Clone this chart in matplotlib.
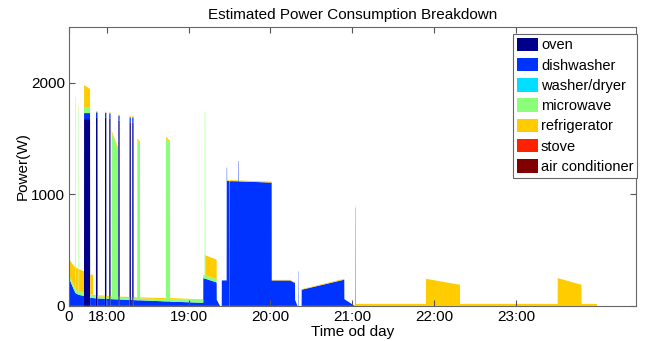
#!/usr/bin/env python3
import matplotlib
matplotlib.use("Agg")
import matplotlib.pyplot as plt
import numpy as np

plt.rcParams['font.family'] = ['Liberation Sans', 'DejaVu Sans']

# time of day in hours, with per-appliance power (W) at each time
t = [17.539, 17.596, 17.618, 17.619, 17.623, 17.624, 17.656, 17.657, 17.661, 17.662,
     17.722, 17.723, 17.796, 17.797, 17.832, 17.833, 17.868, 17.869, 17.887, 17.888,
     17.978, 17.979, 17.995, 17.996, 18.030, 18.031, 18.046, 18.047, 18.060, 18.061,
     18.137, 18.138, 18.141, 18.142, 18.157, 18.158, 18.278, 18.279, 18.294, 18.295,
     18.311, 18.312, 18.327, 18.328, 18.373, 18.374, 18.406, 18.407, 18.723, 18.724,
     18.772, 18.773, 19.179, 19.180, 19.196, 19.197, 19.203, 19.204, 19.343, 19.344,
     19.384, 19.405, 19.406, 19.465, 19.466, 19.470, 19.471, 19.496, 19.497, 19.500,
     19.501, 19.605, 19.606, 19.610, 19.611, 20.015, 20.016, 20.240, 20.300, 20.301,
     20.330, 20.339, 20.340, 20.343, 20.344, 20.381, 20.382, 20.902, 20.903, 21.030,
     21.031, 21.035, 21.036, 21.039, 21.040, 21.899, 21.900, 22.316, 22.317, 23.509,
     23.510, 23.800, 23.801, 23.990, 23.991]

oven = [0, 0, 0, 0, 0, 0, 0, 0, 0, 0,
        0, 1674, 1674, 0, 0, 0, 0, 1690, 1690, 0,
        0, 1685, 1685, 0, 0, 1680, 1680, 0, 0, 0,
        0, 0, 0, 1660, 1660, 0, 0, 1645, 1645, 0,
        0, 1645, 1645, 0, 0, 0, 0, 0, 0, 0,
        0, 0, 0, 0, 0, 0, 0, 0, 0, 0,
        0, 0, 0, 0, 0, 0, 0, 0, 0, 0,
        0, 0, 0, 0, 0, 0, 0, 0, 0, 0,
        0, 0, 0, 0, 0, 0, 0, 0, 0, 0,
        0, 0, 0, 0, 0, 0, 0, 0, 0, 0,
        0, 0, 0, 0, 0]

dishwasher = [250, 150, 115, 115, 112, 112, 100, 100, 100, 98,
              90, 54, 54, 72, 70, 70, 68, 45, 45, 66,
              64, 45, 45, 62, 62, 45, 45, 61, 60, 60,
              58, 58, 58, 45, 45, 57, 54, 45, 45, 53,
              53, 45, 45, 52, 50, 50, 50, 50, 40, 40,
              40, 38, 28, 249, 245, 245, 244, 244, 210, 54,
              0, 0, 228, 228, 1239, 1239, 1119, 1119, 0, 0,
              1118, 1117, 1299, 1299, 1116, 1105, 228, 228, 205, 54,
              0, 0, 309, 309, 0, 0, 145, 235, 60, 0,
              0, 0, 880, 880, 0, 0, 0, 0, 0, 0,
              0, 0, 0, 0, 0]

washer = [0] * len(t)

microwave = [30, 30, 30, 1480, 1480, 30, 30, 1660, 1660, 30,
             30, 54, 54, 30, 30, 20, 18, 0, 0, 18,
             18, 0, 0, 18, 18, 0, 0, 18, 18, 1490,
             1342, 18, 18, 0, 0, 16, 16, 0, 0, 16,
             16, 0, 0, 16, 16, 1430, 1400, 16, 20, 1455,
             1420, 22, 25, 30, 30, 1498, 1498, 30, 30, 0,
             0, 0, 0, 0, 0, 0, 0, 0, 0, 0,
             0, 0, 0, 0, 0, 0, 0, 0, 0, 0,
             0, 0, 0, 0, 0, 0, 0, 0, 0, 0,
             0, 0, 0, 0, 0, 0, 0, 0, 0, 0,
             0, 0, 0, 0, 0]

refrigerator = [140, 180, 200, 275, 278, 200, 200, 30, 30, 200,
                190, 198, 162, 178, 180, 10, 10, 10, 10, 10,
                10, 10, 10, 10, 10, 10, 10, 10, 10, 20,
                20, 10, 10, 10, 10, 10, 10, 10, 10, 10,
                10, 10, 10, 10, 10, 20, 20, 10, 10, 20,
                20, 10, 5, 0, 0, 0, 0, 180, 174, 0,
                0, 0, 0, 0, 0, 0, 8, 8, 0, 0,
                8, 8, 0, 0, 8, 8, 5, 5, 5, 0,
                0, 0, 0, 0, 0, 0, 5, 8, 0, 0,
                18, 18, 18, 18, 18, 18, 243, 189, 18, 18,
                249, 189, 18, 18, 0]

stove = [0] * len(t)
air_conditioner = [0] * len(t)

labels = ["oven", "dishwasher", "washer/dryer", "microwave", "refrigerator",
          "stove", "air conditioner"]
colors = ["#00008c", "#0033ff", "#00dfff", "#8cff78", "#ffcc00", "#ff2200", "#800000"]

tick_pos = [17.539, 18, 19, 20, 21, 22, 23]
tick_lab = ["0", "18:00", "19:00", "20:00", "21:00", "22:00", "23:00"]

fig = plt.figure(figsize=(6.45, 3.41), dpi=100)
ax = fig.add_axes([0.107, 0.103, 0.879, 0.818])

ax.stackplot(t, oven, dishwasher, washer, microwave, refrigerator, stove, air_conditioner,
             labels=labels, colors=colors, linewidth=0)

ax.set_xlim(17.539, 24.466)
ax.set_ylim(0, 2500)
ax.set_xticks(tick_pos)
ax.set_xticklabels(tick_lab)
ax.set_yticks([0, 1000, 2000])
ax.tick_params(direction="in", length=4, top=True, right=True, labelsize=11,
               color="#555555", pad=3)
for s in ax.spines.values():
    s.set_color("#666666")
    s.set_linewidth(0.8)

ax.set_title("Estimated Power Consumption Breakdown", fontsize=11, pad=6)
ax.set_xlabel("Time od day", fontsize=11, labelpad=1)
ax.set_ylabel("Power(W)", fontsize=11, labelpad=1)

leg = ax.legend(loc="upper right", bbox_to_anchor=(1.002, 0.975), borderaxespad=0,
                fontsize=10.5, fancybox=False, framealpha=1, edgecolor="#666666",
                handlelength=1.45, handleheight=1.05, handletextpad=0.2,
                labelspacing=0.38, borderpad=0.25)
leg.get_frame().set_linewidth(0.8)

fig.savefig("out.png", dpi=100)
